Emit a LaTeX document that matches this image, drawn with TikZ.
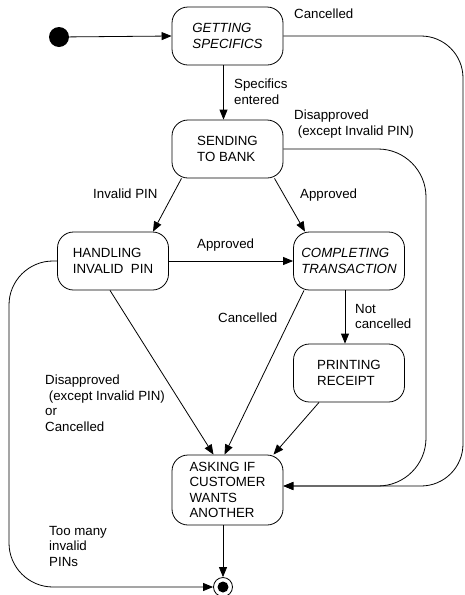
\documentclass[tikz,border=0pt]{standalone}
\usepackage{fontspec}
\setmainfont{Liberation Sans}
\usetikzlibrary{arrows.meta,calc}
\begin{document}
\begin{tikzpicture}[x=1pt,y=-1pt,
  every node/.style={font=\fontsize{13.3}{15.5}\selectfont},
  state/.style={draw, line width=0.8pt, rounded corners=16pt, minimum width=111pt, minimum height=58pt, align=left, inner sep=2pt},
  lbl/.style={anchor=north west, align=left, inner sep=0pt},
  arr/.style={line width=0.8pt, -{Triangle[length=10pt,width=8pt]}},
  ln/.style={line width=0.8pt}]
\useasboundingbox (0,0) rectangle (464,595);
% states
\node[circle, fill=black, minimum size=20pt, inner sep=0pt] (I) at (59,37) {};
\node[state] (G) at (227.5,36) {\itshape GETTING\\\itshape SPECIFICS};
\node[state] (S) at (227.5,149) {SENDING\\TO BANK};
\node[state] (H) at (113,261) {HANDLING\\INVALID\ \ PIN};
\node[state] (C) at (349,261) {\itshape COMPLETING\\\itshape TRANSACTION};
\node[state] (P) at (349,373) {PRINTING\\RECEIPT};
\node[state, minimum height=70pt] (A) at (227.5,490) {ASKING IF\\CUSTOMER\\WANTS\\ANOTHER};
\node[circle, draw, line width=0.8pt, minimum size=19pt, inner sep=0pt] (F) at (223,587) {};
\node[circle, fill=black, minimum size=11pt, inner sep=0pt] (Fi) at (F.center) {};
% transitions
\draw[arr] (I) -- (G.west);
\draw[arr] ($(G.south)+(-4,0)$) -- ($(S.north)+(-4,0)$);
\draw[arr] ($(S.south)+(-46,0)$) -- ($(H.north)+(40,0)$);
\draw[arr] ($(S.south)+(47,0)$) -- ($(C.north)+(-44,0)$);
\draw[arr] (H.east) -- (C.west);
\draw[arr] ($(C.south)+(-4,0)$) -- ($(P.north)+(-4,0)$);
\draw[arr] ($(H.south)+(-3,0)$) -- ($(A.north)+(-14,0)$);
\draw[arr] ($(C.south)+(-45,0)$) -- ($(A.north)+(-3,0)$);
\draw[arr] ($(P.south)+(-30,0)$) -- ($(A.north)+(46,0)$);
\draw[arr] (A.south -| F.north) -- (F.north);
\draw[arr, rounded corners=42pt] (G.east) -- (463,36) -- (463,486) -- ($(A.east)+(0,-4)$);
\draw[arr, rounded corners=48pt] (S.east) -- (426,149) -- (426,486) -- ($(A.east)+(0,-4)$);
\draw[arr, rounded corners=44pt] (H.west) -- (9,261) -- (9,587) -- (F.west);
% labels
\node[lbl] (l1) at (294,9) {Cancelled};
\node[lbl] (l2) at (234,79) {Specifics\\entered};
\node[lbl] (l3) at (294,110) {Disapproved\\\ (except Invalid PIN)};
\node[lbl] (l4) at (93,189) {Invalid PIN};
\node[lbl] (l5) at (300,189) {Approved};
\node[lbl] (l6) at (197,239) {Approved};
\node[lbl] (l7) at (218,313) {Cancelled};
\node[lbl] (l8) at (355,304) {Not\\cancelled};
\node[lbl] (l9) at (45,375) {Disapproved\\\ (except Invalid PIN)\\or\\Cancelled};
\node[lbl] (l10) at (49,526) {Too many\\invalid\\PINs};
\end{tikzpicture}
\end{document}
